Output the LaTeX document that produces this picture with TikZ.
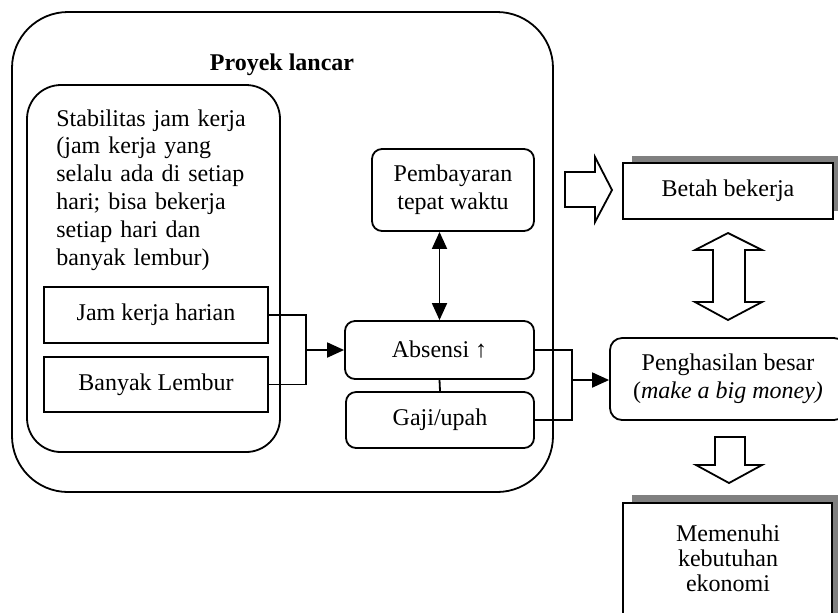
\documentclass[tikz,border=0pt]{standalone}
\usepackage{fontspec}
\setmainfont{Liberation Serif}
\usetikzlibrary{arrows.meta,calc}
\tikzset{
  box/.style={draw, line width=0.9pt, inner sep=0pt, fill=white, font=\fontsize{12}{13.9}\selectfont, align=center},
  rbox/.style={box, rounded corners=5pt},
  shadowbox/.style={fill=black!50, draw=none, inner sep=0pt},
  conn/.style={line width=0.9pt},
  tri/.tip={Triangle[length=8.5pt,width=7.5pt]},
  blockarrow/.style={draw, line width=0.9pt, fill=white, line join=miter},
  txt/.style={font=\fontsize{12}{13.9}\selectfont, inner sep=0pt}
}
\begin{document}
\begin{tikzpicture}[x=0.5pt,y=-0.5pt]
\useasboundingbox (0,0) rectangle (838,612);
\clip (0,0) rectangle (838,612);
\fill[white] (0,0) rectangle (838,612);

% outer box
\node[box, rounded corners=28pt, minimum width=270.5pt, minimum height=240pt] (outer) at (282.5,252) {};
\node[txt, font=\fontsize{12}{13.9}\selectfont\bfseries] (title) at (282,65) {Proyek lancar};

% inner left box
\node[box, rounded corners=17pt, minimum width=126.5pt, minimum height=183.5pt] (stab) at (153.5,268.5) {};
\node[txt, anchor=north west, text width=112pt, align=left] (stabtxt) at (56,109)
  {Stabilitas jam kerja\\(jam kerja yang\\selalu ada di setiap\\hari; bisa bekerja\\setiap hari dan\\banyak lembur)};
\node[box, minimum width=112pt, minimum height=28pt] (jam) at (156,315) {Jam kerja harian};
\node[box, minimum width=112pt, minimum height=27.5pt] (ban) at (156,384.5) {Banyak Lembur};

% middle boxes
\node[rbox, minimum width=81pt, minimum height=41pt] (pem) at (453,190) {Pembayaran\\tepat waktu};
\node[rbox, minimum width=94.5pt, minimum height=29pt] (abs) at (439.5,350) {Absensi ↑};
\node[rbox, minimum width=94pt, minimum height=28pt] (gaji) at (440,420) {Gaji/upah};

% right boxes
\node[shadowbox, minimum width=104pt, minimum height=27.5pt] (betahsh) at (736,183.5) {};
\node[box, minimum width=105pt, minimum height=28pt] (betah) at (728,191) {Betah bekerja};
\node[rbox, rounded corners=6pt, minimum width=118pt, minimum height=41pt] (peng) at (728,379) {Penghasilan besar\\(\textit{make a big money)}};
\node[shadowbox, minimum width=104pt, minimum height=82.5pt] (memsh) at (736,577.5) {};
\node[box, minimum width=104.5pt, minimum height=78.5pt] (mem) at (727.5,581.5) {};
\node[txt, align=center, font=\fontsize{12}{12.6}\selectfont] (memtxt) at (728,558) {Memenuhi\\kebutuhan\\ekonomi};

% connectors
\coordinate (j1) at (306,350);
\draw[conn] (jam.east) -| (j1);
\draw[conn] (ban.east) -| (j1);
\draw[conn, -tri] (j1) -- (abs.west);
\draw[conn, tri-tri] (abs.north |- pem.south) -- (abs.north);
\draw[conn] (abs.south) -- (gaji.north);
\coordinate (j2) at (572,380);
\draw[conn] (abs.east) -| (j2);
\draw[conn] (gaji.east) -| (j2);
\draw[conn, -tri] (j2) -- (peng.west |- j2);

% block arrows
\draw[blockarrow] (565,172) -- (595,172) -- (595,157) -- (612,190) -- (595,222) -- (595,207) -- (565,207) -- cycle;
\draw[blockarrow] (728,233) -- (762,250) -- (745,250) -- (745,302) -- (762,302) -- (728,320) -- (695,302) -- (713,302) -- (713,250) -- (695,250) -- cycle;
\draw[blockarrow] (715,437) -- (745,437) -- (745,465) -- (762,465) -- (729,483) -- (696,465) -- (715,465) -- cycle;
\end{tikzpicture}
\end{document}
